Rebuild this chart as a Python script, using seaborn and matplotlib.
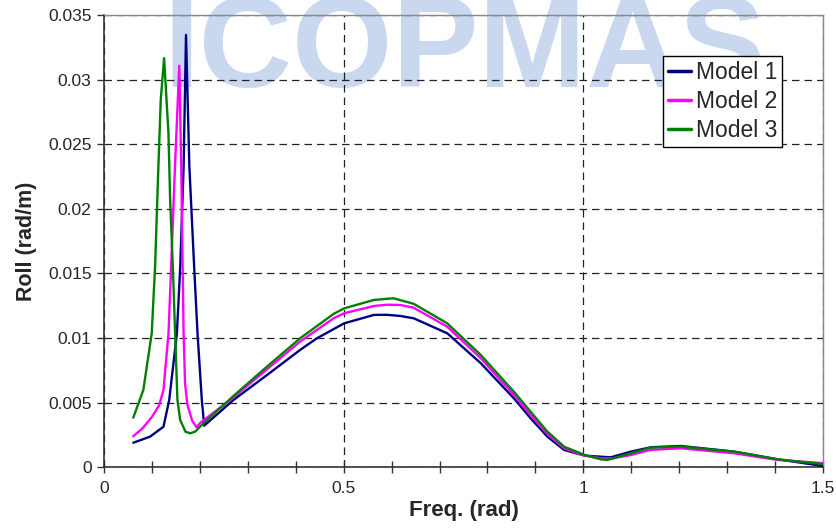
import numpy as np
import pandas as pd
import matplotlib
matplotlib.use("Agg")
import matplotlib.pyplot as plt
from matplotlib.ticker import MultipleLocator, FuncFormatter
import seaborn as sns

# ---- data ----
m1_x = [0.061, 0.096, 0.124, 0.136, 0.152, 0.159, 0.166, 0.171, 0.178, 0.188, 0.195, 0.204, 0.209,
        0.270, 0.340, 0.409, 0.444, 0.501, 0.563, 0.590, 0.618, 0.646, 0.716, 0.786, 0.855, 0.890,
        0.925, 0.960, 1.003, 1.036, 1.057, 1.099, 1.141, 1.203, 1.315, 1.405, 1.500]
m1_y = [0.0019, 0.00237, 0.00314, 0.00521, 0.01037, 0.01553, 0.02327, 0.03346, 0.02327, 0.01553, 0.01037, 0.00521, 0.00322,
        0.00521, 0.00714, 0.00908, 0.00998, 0.01114, 0.01179, 0.0118, 0.01171, 0.01153, 0.01037, 0.00805, 0.00534, 0.00379,
        0.00237, 0.00134, 0.0009, 0.00082, 0.00077, 0.00121, 0.00155, 0.00165, 0.00121, 0.00062, 0.0001]

m2_x = [0.061, 0.080, 0.100, 0.115, 0.124, 0.1345, 0.140, 0.148, 0.157, 0.161, 0.164, 0.166, 0.169, 0.174, 0.184,
        0.193, 0.2005, 0.270, 0.340, 0.409, 0.479, 0.501, 0.563, 0.590, 0.618, 0.646, 0.716, 0.786, 0.855,
        0.890, 0.925, 0.960, 1.003, 1.036, 1.060, 1.099, 1.140, 1.203, 1.315, 1.405, 1.503]
m2_y = [0.0024, 0.0030, 0.0039, 0.0048, 0.00598, 0.01037, 0.01553, 0.02327, 0.03108, 0.0233, 0.01553, 0.01037, 0.0065, 0.00482, 0.0036,
        0.0031, 0.00343, 0.00541, 0.00758, 0.00972, 0.01153, 0.01192, 0.01248, 0.01258, 0.01256, 0.01235, 0.01088, 0.00844, 0.0056,
        0.00405, 0.00258, 0.00147, 0.0009, 0.0007, 0.00068, 0.00095, 0.00134, 0.00147, 0.00108, 0.00057, 0.00031]

m3_x = [0.061, 0.082, 0.0995, 0.1065, 0.1134, 0.1183, 0.1253, 0.1344, 0.1379, 0.1435, 0.1483, 0.1531, 0.1588,
        0.170, 0.180, 0.190, 0.2075, 0.270, 0.340, 0.409, 0.479, 0.501, 0.563, 0.604, 0.646, 0.716, 0.786,
        0.855, 0.890, 0.925, 0.960, 1.003, 1.036, 1.050, 1.099, 1.140, 1.203, 1.315, 1.405, 1.503]
m3_y = [0.00384, 0.00598, 0.01037, 0.01553, 0.02327, 0.02843, 0.03166, 0.02585, 0.02069, 0.01553, 0.01037, 0.00521, 0.00366,
        0.00275, 0.00263, 0.00276, 0.0034, 0.00552, 0.00779, 0.00998, 0.01187, 0.0123, 0.01295, 0.01308, 0.01265, 0.01114, 0.00869,
        0.00585, 0.0043, 0.00276, 0.00159, 0.00095, 0.00062, 0.00057, 0.00108, 0.00152, 0.0016, 0.00121, 0.00062, 0.00023]

series_names = ["Model 1", "Model 2", "Model 3"]
series_colors = ["#000080", "#FF00FF", "#008000"]
x_ticks = [0, 0.5, 1, 1.5]
y_ticks = [0, 0.005, 0.01, 0.015, 0.02, 0.025, 0.03, 0.035]

df = pd.concat([
    pd.DataFrame({"freq": m1_x, "roll": m1_y, "model": series_names[0]}),
    pd.DataFrame({"freq": m2_x, "roll": m2_y, "model": series_names[1]}),
    pd.DataFrame({"freq": m3_x, "roll": m3_y, "model": series_names[2]}),
], ignore_index=True)

sns.set_style("white")
plt.rcParams["font.family"] = ["Liberation Sans", "DejaVu Sans"]

fig = plt.figure(figsize=(8.37, 5.28), dpi=100, facecolor="white")
ax = fig.add_axes([0.1243, 0.115, 0.859, 0.8566])
ax.patch.set_alpha(0)

# watermark
fig.text(163 / 837, 1 - 87 / 528, "ICOPMAS", fontsize=93, fontweight="bold",
         color="#c9d8ef", ha="left", va="baseline", zorder=-1)

sns.lineplot(data=df, x="freq", y="roll", hue="model", palette=series_colors,
             estimator=None, sort=False, linewidth=1.7, ax=ax, zorder=3)

ax.set_xlim(0, 1.5)
ax.set_ylim(0, 0.035)
ax.set_xticks(x_ticks)
ax.set_yticks(y_ticks)
ax.xaxis.set_minor_locator(MultipleLocator(0.1))
fmt = FuncFormatter(lambda v, p: "%g" % round(v, 6))
ax.xaxis.set_major_formatter(fmt)
ax.yaxis.set_major_formatter(fmt)

ax.tick_params(axis="x", which="both", direction="inout", length=8, width=1,
               color="#333333", labelsize=12.5, pad=6, bottom=True)
ax.tick_params(axis="y", which="major", direction="out", length=5, width=1,
               color="#333333", labelsize=12.5, pad=4, left=True)

ax.grid(True, which="major", axis="both", linestyle=(0, (6, 4)),
        color="#222222", linewidth=0.9, zorder=1)
ax.set_axisbelow(True)

for s in ["left", "bottom"]:
    ax.spines[s].set_color("#333333")
    ax.spines[s].set_linewidth(1.2)
for s in ["top", "right"]:
    ax.spines[s].set_color("#888888")
    ax.spines[s].set_linewidth(1.0)

ax.set_xlabel("Freq. (rad)", fontsize=16, fontweight="bold", labelpad=3)
ax.set_ylabel("Roll (rad/m)", fontsize=15.5, fontweight="bold", labelpad=8)

leg = ax.legend(loc="upper left", bbox_to_anchor=(0.7775, 0.9094), frameon=True,
                fancybox=False, edgecolor="black", fontsize=16.5, handlelength=1.0,
                handletextpad=0.25, labelspacing=0.28, borderpad=0.2,
                borderaxespad=0, framealpha=1)
leg.get_frame().set_linewidth(1.0)
for h in leg.get_lines():
    h.set_linewidth(2.5)

fig.savefig("out.png", dpi=100, facecolor="white")
